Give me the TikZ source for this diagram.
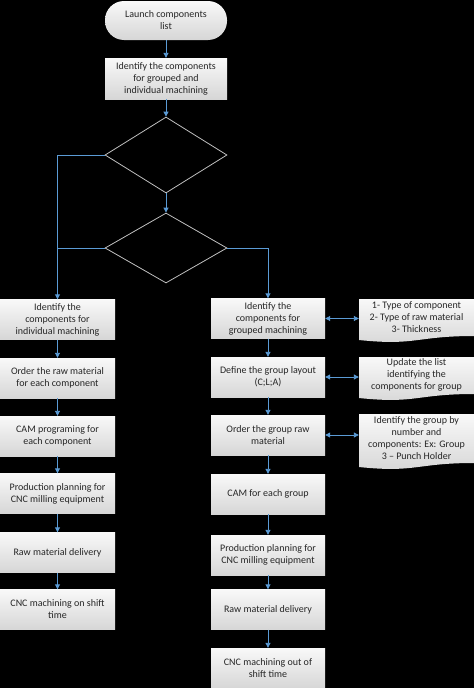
\documentclass[tikz,border=0pt]{standalone}
\usepackage{fontspec}
\setmainfont{Carlito}
\usetikzlibrary{shapes.geometric, arrows.meta, positioning}
\definecolor{flowBlue}{RGB}{91,155,213}
\definecolor{flowEdge}{RGB}{191,191,191}
\definecolor{flowText}{RGB}{38,38,38}

\begin{document}
\begin{tikzpicture}[
    x=1pt, y=-1pt,
    procbox/.style={rectangle, top color=gray!5, bottom color=gray!32, text=flowText, align=center, font=\fontsize{10}{12}\selectfont, minimum height=40pt, inner sep=1pt},
    startbox/.style={procbox, rounded corners=19pt, minimum width=122pt, minimum height=39pt},
    decbox/.style={diamond, draw=flowEdge, line width=0.8pt, minimum width=122pt, inner sep=0pt},
    notetext/.style={rectangle, text=flowText, align=center, font=\fontsize{10}{12}\selectfont, minimum width=115pt, inner sep=0pt},
    notefill/.style={top color=gray!5, bottom color=gray!32},
    flowarrow/.style={draw=flowBlue, line width=0.9pt, -{Triangle[width=5pt,length=5pt]}},
    flowline/.style={draw=flowBlue, line width=0.9pt},
    dblarrow/.style={draw=flowBlue, line width=0.9pt, {Triangle[width=5pt,length=5pt]}-{Triangle[width=5pt,length=5pt]}}
]

% Background
\fill[black] (0,0) rectangle (474,688);

% Top of the chart
\node (launch) [startbox] at (166,20.5) {Launch components\\list};
\node (ident) [procbox, minimum width=122pt, minimum height=41pt] at (166,78.5) {Identify the components\\for grouped and\\individual machining};
\node (dec1) [decbox, minimum height=76pt] at (166,155) {};
\node (dec2) [decbox, minimum height=70pt] at (166,248) {};

% Individual machining
\node (ind1) [procbox, minimum width=115pt] at (57.5,319.5) {Identify the\\components for\\individual machining};
\node (ind2) [procbox, minimum width=115pt] at (57.5,378) {Order the raw material\\for each component};
\node (ind3) [procbox, minimum width=115pt] at (57.5,436) {CAM programing for\\each component};
\node (ind4) [procbox, minimum width=115pt] at (57.5,493.5) {Production planning for\\CNC milling equipment};
\node (ind5) [procbox, minimum width=115pt] at (57.5,552.5) {Raw material delivery};
\node (ind6) [procbox, minimum width=115pt] at (57.5,609.5) {CNC machining on shift\\time};

% Grouped machining
\node (grp1) [procbox, minimum width=114pt] at (268,318.5) {Identify the\\components for\\grouped machining};
\node (grp2) [procbox, minimum width=114pt] at (268,377) {Define the group layout\\(C;L;A)};
\node (grp3) [procbox, minimum width=114pt] at (268,435) {Order the group raw\\material};
\node (grp4) [procbox, minimum width=114pt] at (268,494) {CAM for each group};
\node (grp5) [procbox, minimum width=114pt] at (268,555) {Production planning for\\CNC milling equipment};
\node (grp6) [procbox, minimum width=114pt] at (268,609.5) {Raw material delivery};
\node (grp7) [procbox, minimum width=114pt] at (268,668) {CNC machining out of\\shift time};

% Side notes
\path[notefill] (359,299) -- (474,299) -- (474,336) .. controls (416,336) and (416,346) .. (359,340) -- cycle;
\node (note1) [notetext] at (416.5,317) {1- Type of component\\2- Type of raw material\\3- Thickness};
\path[notefill] (359,357) -- (474,357) -- (474,394) .. controls (416,394) and (416,404) .. (359,398) -- cycle;
\node (note2) [notetext] at (416.5,375) {Update the list\\identifying the\\components for group};
\path[notefill] (359,414) -- (474,414) -- (474,463) .. controls (416,463) and (416,473) .. (359,467) -- cycle;
\node (note3) [notetext] at (416.5,438.5) {Identify the group by\\number and\\components: Ex: Group\\3 -- Punch Holder};

% Connectors
\draw[flowarrow] (launch) -- (ident);
\draw[flowarrow] (ident) -- (dec1);
\draw[flowarrow] (dec1) -- (dec2);
\draw[flowarrow] (dec1.west) -| (ind1.north);
\draw[flowline] (dec2.west) -- (dec2.west -| ind1.north);
\draw[flowarrow] (dec2.east) -| (grp1.north);

\draw[flowarrow] (ind1) -- (ind2);
\draw[flowarrow] (ind2) -- (ind3);
\draw[flowarrow] (ind3) -- (ind4);
\draw[flowarrow] (ind4) -- (ind5);
\draw[flowarrow] (ind5) -- (ind6);

\draw[flowarrow] (grp1) -- (grp2);
\draw[flowarrow] (grp2) -- (grp3);
\draw[flowarrow] (grp3) -- (grp4);
\draw[flowarrow] (grp4) -- (grp5);
\draw[flowarrow] (grp5) -- (grp6);
\draw[flowarrow] (grp6) -- (grp7);

\draw[dblarrow] (grp1.east) -- (grp1.east -| note1.west);
\draw[dblarrow] (grp2.east) -- (grp2.east -| note2.west);
\draw[dblarrow] (grp3.east) -- (grp3.east -| note3.west);

\end{tikzpicture}
\end{document}
